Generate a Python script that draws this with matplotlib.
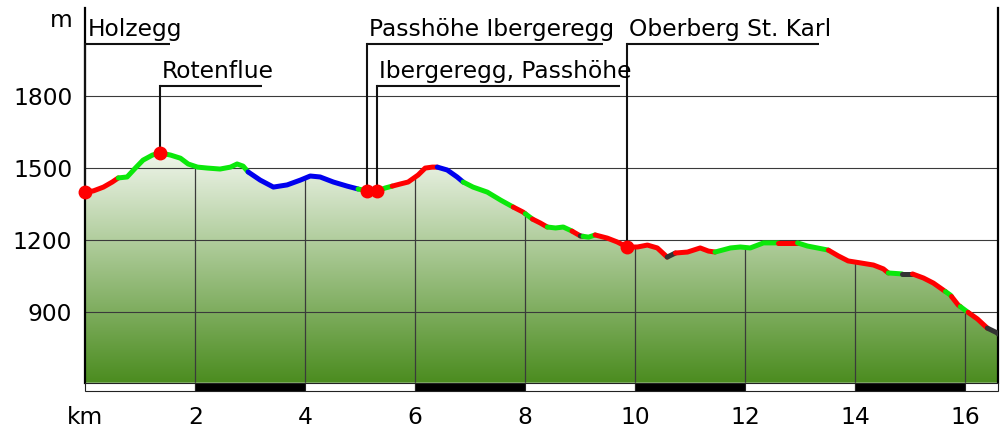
import numpy as np
import matplotlib
matplotlib.use("Agg")
import matplotlib.pyplot as plt
from matplotlib.colors import LinearSegmentedColormap
from matplotlib.patches import Rectangle, Polygon
import matplotlib.transforms as mtransforms

# profil (km, m)
km = [0, 0.145, 0.33, 0.49, 0.60, 0.76, 0.91, 1.05, 1.22, 1.36, 1.55, 1.73, 1.87, 2.04,
      2.22, 2.45, 2.64, 2.76, 2.87, 2.96, 3.18, 3.42, 3.67, 3.91, 4.09, 4.27, 4.51, 4.76,
      4.96, 5.13, 5.31, 5.45, 5.58, 5.73, 5.87, 6.05, 6.18, 6.31, 6.40, 6.58, 6.76, 6.87,
      7.05, 7.31, 7.55, 7.78, 7.96, 8.13, 8.27, 8.40, 8.55, 8.69, 8.85, 9.0, 9.15, 9.27,
      9.49, 9.67, 9.85, 10.04, 10.22, 10.4, 10.58, 10.73, 10.95, 11.18, 11.33, 11.45, 11.73,
      11.91, 12.09, 12.33, 12.6, 12.76, 12.95, 13.13, 13.31, 13.51, 13.69, 13.87, 14.09,
      14.33, 14.51, 14.6, 14.85, 15.04, 15.24, 15.42, 15.6, 15.73, 15.87, 16.04, 16.22,
      16.4, 16.58, 16.6]
elev = [1402, 1405, 1421, 1442, 1459, 1463, 1500, 1533, 1554, 1563, 1554, 1541, 1517, 1504,
        1500, 1496, 1504, 1517, 1508, 1484, 1450, 1421, 1430, 1450, 1467, 1463, 1442, 1425,
        1413, 1405, 1405, 1417, 1425, 1434, 1442, 1471, 1500, 1504, 1504, 1492, 1463, 1442,
        1421, 1400, 1367, 1338, 1317, 1288, 1272, 1255, 1251, 1255, 1238, 1218, 1213, 1222,
        1209, 1193, 1172, 1172, 1180, 1168, 1130, 1147, 1151, 1168, 1155, 1151, 1168,
        1172, 1168, 1189, 1189, 1189, 1189, 1176, 1168, 1159, 1135, 1114, 1106,
        1097, 1081, 1064, 1060, 1060, 1043, 1022, 993, 972, 931, 902, 873,
        835, 815, 810]

# kolorowe odcinki
seg_edges = [0, 0.60, 2.96, 4.96, 5.58, 6.40, 6.87, 7.78, 8.0, 8.13, 8.40, 8.85, 9.0, 9.05,
             9.27, 10.58, 10.73, 11.45, 12.6, 12.95, 13.51, 14.6, 14.85, 15.04, 15.64, 15.75,
             15.91, 16.05, 16.4, 16.6]
seg_kind = ['r', 'g', 'b', 'g', 'r', 'b', 'g', 'r', 'g', 'r', 'g', 'r', 'd', 'g', 'r', 'd',
            'r', 'g', 'r', 'g', 'r', 'g', 'd', 'r', 'g', 'r', 'g', 'r', 'd']
kind_color = {'r': '#ff0000', 'g': '#0be80b', 'b': '#0000ee', 'd': '#333333'}

# punkty
wp_names = ['Holzegg', 'Rotenflue', 'Passhöhe Ibergeregg', 'Ibergeregg, Passhöhe', 'Oberberg St. Karl']
wp_km = [0.0, 1.36, 5.13, 5.31, 9.85]
wp_row = [0, 1, 0, 1, 0]

yticks = [900, 1200, 1500, 1800]
xticks = [0, 2, 4, 6, 8, 10, 12, 14, 16]
xlabels = ['km', '2', '4', '6', '8', '10', '12', '14', '16']

XMAX = 16.6
YMIN, YMAX = 608, 2164
FS = 16.8

W, H = 1002, 428
fig = plt.figure(figsize=(W / 100, H / 100), dpi=100)
ax = fig.add_axes([85.3 / W, 45.3 / H, 913 / W, 374.4 / H])
ax.set_xlim(0, XMAX)
ax.set_ylim(YMIN, YMAX)

km = np.array(km)
elev = np.array(elev)

# wypelnienie z gradientem
poly_xy = np.vstack([np.column_stack([km, elev]), [[XMAX, YMIN], [0, YMIN]]])
poly = Polygon(poly_xy, closed=True, facecolor='none', edgecolor='none')
ax.add_patch(poly)
cmap = LinearSegmentedColormap.from_list('fill', ['#4b8c1f', '#f2f7ee'])
grad = np.linspace(0, 1, 256).reshape(-1, 1)
im = ax.imshow(grad, cmap=cmap, aspect='auto', origin='lower',
               extent=[0, XMAX, YMIN, 1580], zorder=1)
im.set_clip_path(poly)

# siatka
for y in yticks:
    ax.axhline(y, color='#3a3a3a', lw=0.8, zorder=2)
for x in xticks[1:]:
    ln = ax.axvline(x, color='#3a3a3a', lw=0.9, zorder=2)
    ln.set_clip_path(poly)

# linia profilu
for i, k in enumerate(seg_kind):
    a, b = seg_edges[i], seg_edges[i + 1]
    inner = (km > a) & (km < b)
    xs = np.concatenate([[a], km[inner], [b]])
    ys = np.interp(xs, km, elev)
    ax.plot(xs, ys, color=kind_color[k], lw=3.6, solid_capstyle='round', zorder=4)

# opisy punktow
row_y = [0.9047, 0.7938]
wp_elev = np.interp(wp_km, km, elev)
tr = mtransforms.blended_transform_factory(ax.transData, ax.transAxes)
texts = []
for name, x, e, r in zip(wp_names, wp_km, wp_elev, wp_row):
    y_dot = ax.transAxes.inverted().transform(ax.transData.transform((x, e)))[1]
    ax.plot([x, x], [y_dot, row_y[r]], transform=tr, color='#111111', lw=1.5,
            zorder=5, clip_on=False)
    ttr = mtransforms.offset_copy(tr, fig=fig, x=2, y=8, units='dots')
    t = ax.text(x, row_y[r], name, transform=ttr, ha='left', va='baseline',
                fontsize=FS, color='black', zorder=6)
    texts.append((t, x, r))
ax.plot(wp_km, wp_elev, 'o', color='#ff0000', ms=9, zorder=7, clip_on=False)

fig.canvas.draw()
rend = fig.canvas.get_renderer()
for t, x, r in texts:
    bb = t.get_window_extent(rend)
    x_end = ax.transData.inverted().transform((bb.x1 - 12, 0))[0]
    ax.plot([x, x_end], [row_y[r], row_y[r]], transform=tr, color='#111111', lw=1.5,
            zorder=5, clip_on=False, solid_capstyle='butt')

# pasek km
bh = 8 / 374.4
for i in range(len(xticks)):
    x0 = xticks[i]
    x1 = xticks[i + 1] if i + 1 < len(xticks) else XMAX
    fc = 'black' if i % 2 == 1 else 'white'
    ax.add_patch(Rectangle((x0, -bh), x1 - x0, bh, transform=tr, facecolor=fc,
                           edgecolor='#222222', lw=0.8, clip_on=False, zorder=3))

# osie
ax.spines['top'].set_visible(False)
ax.spines['bottom'].set_visible(False)
ax.spines['left'].set_linewidth(1.6)
ax.spines['right'].set_linewidth(1.6)
ax.set_yticks(yticks)
ax.set_yticklabels([str(v) for v in yticks])
ax.set_xticks(xticks)
ax.set_xticklabels(xlabels)
ax.tick_params(axis='y', length=0, pad=9.4, labelsize=FS)
ax.tick_params(axis='x', length=0, pad=17, labelsize=FS)

fig.text(73 / W, (H - 27) / H, 'm', ha='right', va='baseline', fontsize=FS)

fig.savefig('out.png', dpi=100)
